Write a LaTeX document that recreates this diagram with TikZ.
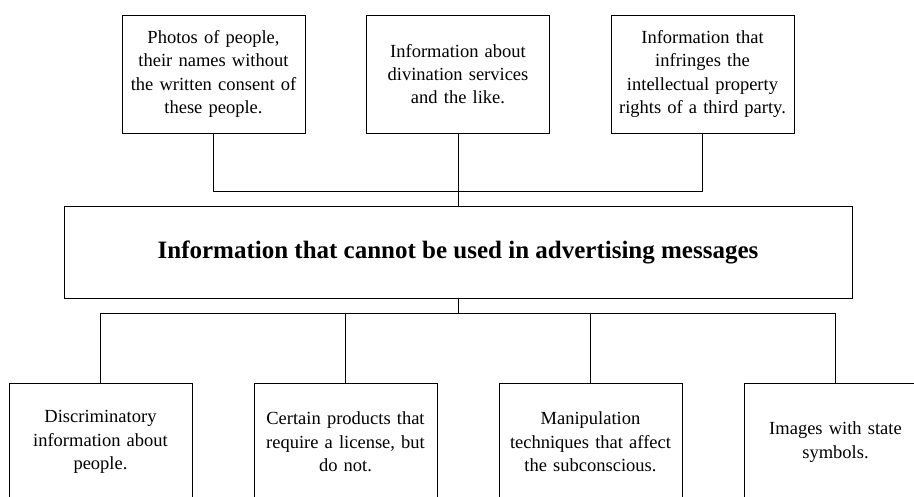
\documentclass[tikz,border=0pt]{standalone}
\usepackage{fontspec}
\setmainfont{Liberation Serif}
\usetikzlibrary{calc,positioning}

\begin{document}
\begin{tikzpicture}[x=1pt,y=-1pt,
  box/.style={draw,line width=0.9pt,minimum width=183pt,minimum height=118pt,text width=176pt,align=center,inner sep=0pt,font=\fontsize{18.5}{23.3}\selectfont},
  mainbox/.style={draw,line width=0.9pt,minimum width=788pt,minimum height=92pt,inner sep=0pt,font=\fontsize{25}{30}\selectfont\bfseries},
  link/.style={line width=0.9pt}]
\useasboundingbox (0,0) rectangle (914,496);
\clip (0,0) rectangle (914,496);
\node[mainbox] (info) at (458,252) {Information that cannot be used in advertising messages};
% upper row
\node[box] (photos) at (213.5,74) {Photos of people,\\their names without\\the written consent of\\these people.};
\node[box] (divin) at (458,74) {Information about\\divination services\\and the like.};
\node[box] (rights) at (702.5,74) {Information that\\infringes the\\intellectual property\\rights of a third party.};
% lower row
\node[box] (discr) at (100.5,442) {Discriminatory\\information about\\people.};
\node[box] (licence) at (345.5,442) {Certain products that\\require a license, but\\do not.};
\node[box] (manip) at (590.5,442) {Manipulation\\techniques that affect\\the subconscious.};
\node[box] (images) at (835.5,442) {Images with state\\symbols.};
% connectors
\draw[link] (photos.south) -- ++(0,58) -| (rights.south);
\draw[link] (divin.south) -- (info.north);
\draw[link] (info.south) -- ++(0,15) coordinate(split);
\draw[link] (discr.north) |- (split) -| (images.north);
\draw[link] (licence.north) -- (licence.north |- split);
\draw[link] (manip.north) -- (manip.north |- split);
\end{tikzpicture}
\end{document}
